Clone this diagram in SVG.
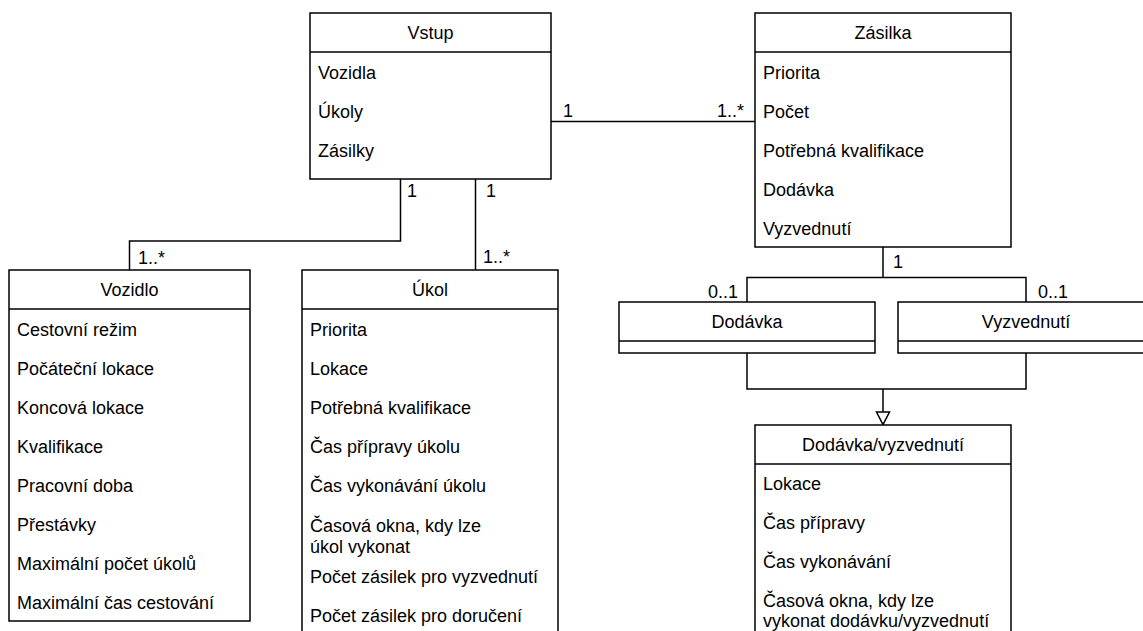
<svg xmlns="http://www.w3.org/2000/svg" width="1143" height="631" viewBox="0 0 1143 631">
<style>
.box{fill:#fff;stroke:#000;stroke-width:1.5}
.ln{fill:none;stroke:#000;stroke-width:1.5}
text{font-family:"Liberation Sans",Arial,sans-serif;font-size:18px;fill:#000}
.t{text-anchor:middle}
.e{text-anchor:end}
</style>
<rect x="0" y="0" width="1143" height="631" fill="#fff"/>
<g id="connectors">
<path class="ln" d="M551 121.5H755"/>
<path class="ln" d="M400.5 179V241H129.5V270"/>
<path class="ln" d="M475.5 179V270"/>
<path class="ln" d="M883 247V277.5M747 302V277.5H1026V302"/>
<path class="ln" d="M747 353V389H1026V353M883 389V412"/>
<polygon points="876.5,412 889.5,412 883,424.5" fill="#fff" stroke="#000" stroke-width="1.5"/>
<text x="563" y="116.5">1</text>
<text class="e" x="744" y="116.5">1..*</text>
<text x="407" y="196.5">1</text>
<text x="486" y="196.5">1</text>
<text x="138" y="264">1..*</text>
<text x="483" y="263">1..*</text>
<text x="893" y="267.5">1</text>
<text class="e" x="738" y="298">0..1</text>
<text x="1038" y="298">0..1</text>
</g>
<g id="vstup">
<rect class="box" x="310" y="13" width="241" height="166"/>
<path class="ln" d="M310 52H551"/>
<text class="t" x="430.5" y="39">Vstup</text>
<text x="318" y="78.5">Vozidla</text>
<text x="318" y="117.5">Úkoly</text>
<text x="318" y="156.5">Zásilky</text>
</g>
<g id="zasilka">
<rect class="box" x="755" y="13" width="256" height="234"/>
<path class="ln" d="M755 52H1011"/>
<text class="t" x="883" y="39">Zásilka</text>
<text x="763" y="78.5">Priorita</text>
<text x="763" y="117.5">Počet</text>
<text x="763" y="156.5">Potřebná kvalifikace</text>
<text x="763" y="195.5">Dodávka</text>
<text x="763" y="234.5">Vyzvednutí</text>
</g>
<g id="vozidlo">
<rect class="box" x="9" y="270" width="241" height="351"/>
<path class="ln" d="M9 309H250"/>
<text class="t" x="129.5" y="296">Vozidlo</text>
<text x="17" y="335.5">Cestovní režim</text>
<text x="17" y="374.5">Počáteční lokace</text>
<text x="17" y="413.5">Koncová lokace</text>
<text x="17" y="452.5">Kvalifikace</text>
<text x="17" y="491.5">Pracovní doba</text>
<text x="17" y="530.5">Přestávky</text>
<text x="17" y="569.5">Maximální počet úkolů</text>
<text x="17" y="608.5">Maximální čas cestování</text>
</g>
<g id="ukol">
<rect class="box" x="302" y="270" width="256" height="400"/>
<path class="ln" d="M302 309H558"/>
<text class="t" x="430" y="296">Úkol</text>
<text x="310" y="335.5">Priorita</text>
<text x="310" y="374.5">Lokace</text>
<text x="310" y="413.5">Potřebná kvalifikace</text>
<text x="310" y="452.5">Čas přípravy úkolu</text>
<text x="310" y="491.5">Čas vykonávání úkolu</text>
<text x="310" y="532">Časová okna, kdy lze</text>
<text x="310" y="552.5">úkol vykonat</text>
<text x="310" y="582.5">Počet zásilek pro vyzvednutí</text>
<text x="310" y="622">Počet zásilek pro doručení</text>
</g>
<g id="dodavka">
<rect class="box" x="619" y="302" width="256" height="51"/>
<path class="ln" d="M619 341H875"/>
<text class="t" x="747" y="328">Dodávka</text>
</g>
<g id="vyzvednuti">
<rect class="box" x="898" y="302" width="256" height="51"/>
<path class="ln" d="M898 341H1154"/>
<text class="t" x="1026" y="328">Vyzvednutí</text>
</g>
<g id="dodavka-vyzvednuti">
<rect class="box" x="755" y="425" width="256" height="240"/>
<path class="ln" d="M755 464H1011"/>
<text class="t" x="883" y="451">Dodávka/vyzvednutí</text>
<text x="763" y="490">Lokace</text>
<text x="763" y="529">Čas přípravy</text>
<text x="763" y="568">Čas vykonávání</text>
<text x="763" y="607">Časová okna, kdy lze</text>
<text x="763" y="627">vykonat dodávku/vyzvednutí</text>
</g>
</svg>
